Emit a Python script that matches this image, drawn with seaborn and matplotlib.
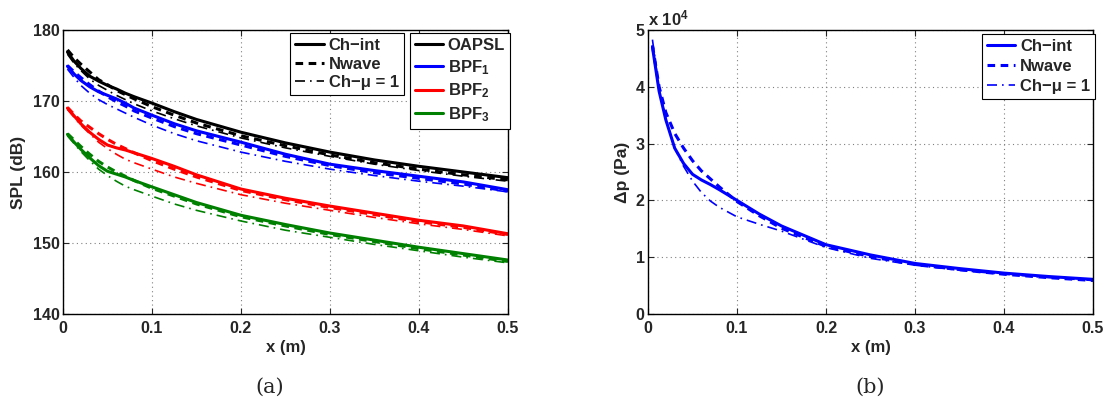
import numpy as np
import pandas as pd
import matplotlib
matplotlib.use('Agg')
import matplotlib.pyplot as plt
from matplotlib.lines import Line2D
from matplotlib.ticker import FuncFormatter
import seaborn as sns

sns.set_style('ticks')
plt.rcParams['font.family'] = ['Liberation Sans', 'DejaVu Sans']
plt.rcParams['font.weight'] = 'bold'
plt.rcParams['mathtext.fontset'] = 'custom'
plt.rcParams['mathtext.rm'] = 'Liberation Sans:bold'
plt.rcParams['mathtext.bf'] = 'Liberation Sans:bold'
plt.rcParams['mathtext.it'] = 'Liberation Sans:bold'

# x positions (m)
x_pos = [0.005, 0.0125, 0.02, 0.03, 0.04, 0.05, 0.06, 0.07, 0.08, 0.1,
         0.125, 0.15, 0.2, 0.25, 0.3, 0.35, 0.4, 0.45, 0.5]

# (a) SPL (dB)
oapsl_int = [176.9, 175.6, 174.6, 173.5, 172.8, 172.2, 171.7, 171.1, 170.6, 169.7,
             168.5, 167.4, 165.6, 164.1, 162.8, 161.7, 160.8, 160.0, 159.2]
oapsl_nw = [177.2, 176.1, 175.2, 174.1, 173.0, 172.3, 171.5, 170.9, 170.3, 169.2,
            168.0, 166.9, 165.1, 163.7, 162.4, 161.3, 160.4, 159.6, 158.9]
oapsl_mu = [176.6, 175.3, 174.3, 173.1, 172.2, 171.5, 170.8, 170.2, 169.6, 168.6,
            167.5, 166.5, 164.8, 163.4, 162.2, 161.1, 160.2, 159.4, 158.7]
bpf1_int = [174.9, 173.8, 172.9, 172.0, 171.3, 170.8, 170.3, 169.7, 169.0, 168.0,
            166.8, 165.8, 164.2, 162.5, 161.1, 160.2, 159.4, 158.6, 157.5]
bpf1_nw = [175.0, 174.1, 173.3, 172.3, 171.4, 170.6, 169.9, 169.3, 168.6, 167.6,
           166.4, 165.4, 163.8, 162.2, 160.9, 159.9, 159.1, 158.3, 157.3]
bpf1_mu = [174.5, 173.3, 172.2, 171.1, 170.2, 169.5, 168.9, 168.3, 167.7, 166.6,
           165.4, 164.4, 162.8, 161.5, 160.4, 159.5, 158.7, 158.0, 157.2]
bpf2_int = [169.0, 167.9, 166.8, 165.6, 164.6, 163.8, 163.4, 163.1, 162.7, 161.9,
            160.8, 159.6, 157.6, 156.3, 155.2, 154.2, 153.2, 152.4, 151.3]
bpf2_nw = [169.1, 168.1, 167.2, 166.3, 165.4, 164.6, 163.9, 163.3, 162.7, 161.6,
           160.4, 159.3, 157.4, 156.1, 155.0, 154.0, 153.0, 152.2, 151.2]
bpf2_mu = [168.8, 167.7, 166.6, 165.4, 164.2, 163.3, 162.5, 161.8, 161.3, 160.4,
           159.3, 158.4, 156.8, 155.6, 154.6, 153.6, 152.7, 151.9, 151.0]
bpf3_int = [165.3, 164.2, 163.2, 162.0, 160.9, 160.1, 159.7, 159.3, 158.8, 157.9,
            156.8, 155.7, 153.9, 152.6, 151.4, 150.4, 149.4, 148.5, 147.6]
bpf3_nw = [165.4, 164.5, 163.6, 162.5, 161.5, 160.7, 160.0, 159.4, 158.8, 157.7,
           156.6, 155.5, 153.7, 152.4, 151.2, 150.2, 149.2, 148.3, 147.4]
bpf3_mu = [165.1, 164.0, 162.9, 161.6, 160.4, 159.5, 158.7, 158.0, 157.5, 156.6,
           155.5, 154.6, 153.1, 151.8, 150.8, 149.8, 148.9, 148.0, 147.2]

# (b) overpressure (Pa)
dp_int = [47000, 39200, 34200, 29200, 26500, 24600, 23600, 22800, 21900, 20000,
          17600, 15500, 12200, 10400, 8900, 8000, 7200, 6600, 6100]
dp_nw = [47300, 40000, 35500, 31800, 29200, 27000, 25200, 23800, 22400, 19800,
         17300, 15100, 11900, 10100, 8700, 7800, 7000, 6400, 5900]
dp_mu = [48300, 39500, 34300, 29200, 26000, 23400, 21400, 19900, 18800, 17100,
         15800, 14600, 11700, 9800, 8600, 7700, 7000, 6400, 5900]

model_labels = ['Ch\u2212int', 'Nwave', 'Ch\u2212\u03bc = 1']
band_labels = ['OAPSL', 'BPF$_{1}$', 'BPF$_{2}$', 'BPF$_{3}$']
band_colors = ['black', '#0000ff', '#ff0000', '#008000']

styles = [dict(linestyle='-', lw=2.2),
          dict(linestyle=(0, (2.5, 1.8)), lw=2.2),
          dict(linestyle=(0, (6, 3, 1, 3)), lw=1.2)]

fig = plt.figure(figsize=(11.09, 4.05), dpi=100)
ax1 = fig.add_axes([63 / 1109, 91 / 405, 445 / 1109, 284 / 405])
ax2 = fig.add_axes([648 / 1109, 91 / 405, 445 / 1109, 284 / 405])

bands = [(oapsl_int, oapsl_nw, oapsl_mu), (bpf1_int, bpf1_nw, bpf1_mu),
         (bpf2_int, bpf2_nw, bpf2_mu), (bpf3_int, bpf3_nw, bpf3_mu)]
for color, series in zip(band_colors, bands):
    for vals, st in zip(series, styles):
        sns.lineplot(x=x_pos, y=vals, ax=ax1, color=color, **st)

for vals, st in zip([dp_int, dp_nw, dp_mu], styles):
    sns.lineplot(x=x_pos, y=vals, ax=ax2, color='#0000ff', **st)


def style_axes(ax):
    ax.set_xlim(0, 0.5)
    ax.set_xticks([0, 0.1, 0.2, 0.3, 0.4, 0.5])
    ax.xaxis.set_major_formatter(FuncFormatter(lambda v, p: '0' if v == 0 else f'{v:.1f}'))
    ax.grid(True, color='#808080', linestyle=(0, (1, 3)), lw=0.8)
    ax.tick_params(direction='in', top=True, right=True, length=4,
                   labelsize=11.5, width=0.8)
    ax.tick_params(axis='x', pad=5)
    ax.tick_params(axis='y', pad=2.5)
    for lab in ax.get_xticklabels() + ax.get_yticklabels():
        lab.set_fontweight('bold')
    for sp in ax.spines.values():
        sp.set_visible(True)
        sp.set_linewidth(1.0)
        sp.set_color('black')
    ax.set_xlabel('x (m)', fontsize=12, fontweight='bold')
    ax.xaxis.set_label_coords(0.5, -0.09)


ax1.set_ylim(140, 180)
ax1.set_yticks([140, 150, 160, 170, 180])
style_axes(ax1)
ax1.set_ylabel('SPL (dB)', fontsize=12.5, fontweight='bold', va='center')
ax1.yaxis.set_label_coords(-0.099, 0.5)

ax2.set_ylim(0, 50000)
ax2.set_yticks([0, 10000, 20000, 30000, 40000, 50000])
ax2.yaxis.set_major_formatter(FuncFormatter(lambda v, p: f'{int(round(v / 1e4))}'))
style_axes(ax2)
ax2.set_ylabel('\u0394p (Pa)', fontsize=12.5, fontweight='bold', va='center')
ax2.yaxis.set_label_coords(-0.058, 0.5)
ax2.text(0.0, 1.005, 'x 10$^{4}$', transform=ax2.transAxes, fontsize=12,
         fontweight='bold', ha='left', va='bottom')

leg_kw = dict(frameon=True, fancybox=False, framealpha=1, edgecolor='black',
              fontsize=12, handlelength=1.7, handletextpad=0.3,
              borderpad=0.3, borderaxespad=0)

style_handles = [Line2D([], [], color='black', **st) for st in styles]
leg1 = ax1.legend(style_handles, model_labels, loc='upper right',
                  bbox_to_anchor=(0.766, 0.99), labelspacing=0.22, **leg_kw)
leg1.get_frame().set_linewidth(0.8)
for t in leg1.get_texts():
    t.set_fontweight('bold')
ax1.add_artist(leg1)

color_handles = [Line2D([], [], color=c, lw=2.2) for c in band_colors]
leg2 = ax1.legend(color_handles, band_labels, loc='upper right',
                  bbox_to_anchor=(1.005, 0.99), labelspacing=0.3, **leg_kw)
leg2.get_frame().set_linewidth(0.8)
for t in leg2.get_texts():
    t.set_fontweight('bold')

blue_handles = [Line2D([], [], color='#0000ff', **st) for st in styles]
leg3 = ax2.legend(blue_handles, model_labels, loc='upper right',
                  bbox_to_anchor=(1.005, 0.985), labelspacing=0.3, **leg_kw)
leg3.get_frame().set_linewidth(0.8)
for t in leg3.get_texts():
    t.set_fontweight('bold')

fig.text(270 / 1109, 1 - 387 / 405, '(a)', fontfamily='DejaVu Serif',
         fontweight='normal', fontsize=15, ha='center', va='center')
fig.text(870 / 1109, 1 - 387 / 405, '(b)', fontfamily='DejaVu Serif',
         fontweight='normal', fontsize=15, ha='center', va='center')

fig.savefig('out.png', dpi=100, facecolor='white')
